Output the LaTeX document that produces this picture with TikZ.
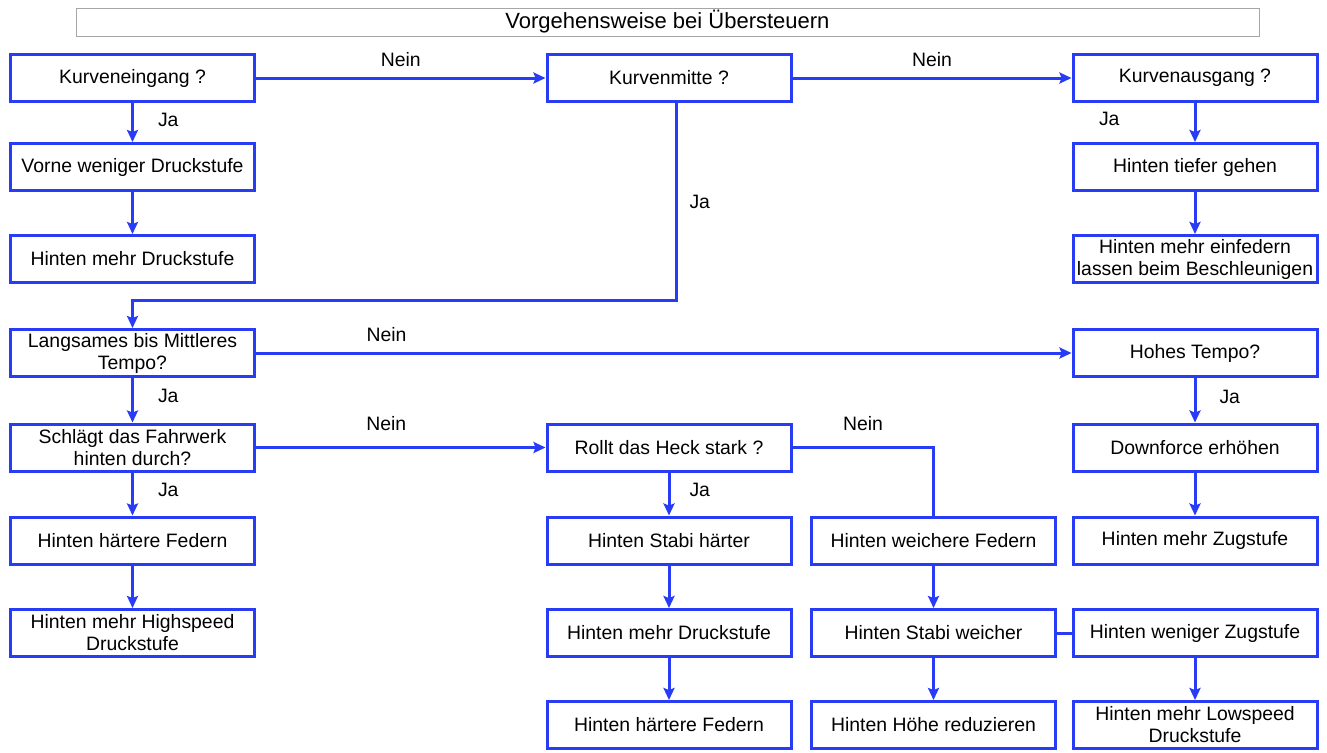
\documentclass[tikz,border=0pt]{standalone}
\usepackage{fontspec}
\setmainfont{Liberation Sans}
\usetikzlibrary{arrows.meta}
\definecolor{linie}{RGB}{40,60,245}
\tikzset{>={Stealth[length=6pt,width=5.5pt,inset=1pt]}}
\tikzset{kasten/.style={draw=linie, line width=1.5pt, minimum width=122pt, minimum height=23.5pt, align=center, inner sep=1pt, font=\fontsize{9.7}{11}\selectfont},
  pfeil/.style={draw=linie, line width=1.5pt, ->},
  verbinder/.style={draw=linie, line width=1.5pt},
  marke/.style={inner sep=0pt, text=black, font=\fontsize{9.7}{11}\selectfont}}

\begin{document}
\begin{tikzpicture}[x=0.5pt,y=-0.5pt]
    \useasboundingbox (0,0) rectangle (1327,752);
    \node[draw=gray!70, line width=0.5pt, minimum width=591.5pt, minimum height=14pt, inner sep=0pt, font=\fontsize{11}{13}\selectfont] (titel) at (667.5,22) {Vorgehensweise bei Übersteuern};
    \node[kasten] (eingang) at (132.5,78) {Kurveneingang ?};
    \node[kasten] (vorne) at (132.5,167) {Vorne weniger Druckstufe};
    \node[kasten] (druckA) at (132.5,259) {Hinten mehr Druckstufe};
    \node[kasten] (mitte) at (669,78) {Kurvenmitte ?};
    \node[kasten] (ausgang) at (1195,78) {Kurvenausgang ?};
    \node[kasten] (tiefer) at (1195,167) {Hinten tiefer gehen};
    \node[kasten] (einfedern) at (1195,259) {Hinten mehr einfedern\\lassen beim Beschleunigen};
    \node[kasten] (tempo) at (132.5,353) {Langsames bis Mittleres\\Tempo?};
    \node[kasten] (hoch) at (1195,353) {Hohes Tempo?};
    \node[kasten] (fahrwerk) at (132.5,447.5) {Schlägt das Fahrwerk\\hinten durch?};
    \node[kasten] (heck) at (669,447.5) {Rollt das Heck stark ?};
    \node[kasten] (downforce) at (1195,447.5) {Downforce erhöhen};
    \node[kasten] (federA) at (132.5,540.5) {Hinten härtere Federn};
    \node[kasten] (stabihart) at (669,540.5) {Hinten Stabi härter};
    \node[kasten] (weichfed) at (933.5,540.5) {Hinten weichere Federn};
    \node[kasten] (zugmehr) at (1195,540.5) {Hinten mehr Zugstufe};
    \node[kasten] (highspeed) at (132.5,633) {Hinten mehr Highspeed\\Druckstufe};
    \node[kasten] (druckB) at (669,633) {Hinten mehr Druckstufe};
    \node[kasten] (stabiweich) at (933.5,633) {Hinten Stabi weicher};
    \node[kasten] (zugweniger) at (1195,633) {Hinten weniger Zugstufe};
    \node[kasten] (federB) at (669,725) {Hinten härtere Federn};
    \node[kasten] (hoehe) at (933.5,725) {Hinten Höhe reduzieren};
    \node[kasten] (lowspeed) at (1195,725) {Hinten mehr Lowspeed\\Druckstufe};
    \coordinate (knick) at (676,300);
    \draw[pfeil] (eingang) -- node[marke, above=5pt] {Nein} (mitte);
    \draw[pfeil] (mitte) -- node[marke, above=5pt] {Nein} (ausgang);
    \draw[pfeil] (eingang) -- node[marke, right=12pt, pos=0.44] {Ja} (vorne);
    \draw[pfeil] (vorne) -- (druckA);
    \draw[pfeil] (ausgang) -- node[marke, left=37pt, pos=0.41] {Ja} (tiefer);
    \draw[pfeil] (tiefer) -- (einfedern);
    \draw[pfeil] (mitte.south -| knick) -- node[marke, right=6pt] {Ja} (knick) -| (tempo.north);
    \draw[pfeil] (tempo) -- node[marke, above=5pt, pos=0.16] {Nein} (hoch);
    \draw[pfeil] (tempo) -- node[marke, right=12pt, pos=0.41] {Ja} (fahrwerk);
    \draw[pfeil] (hoch) -- node[marke, right=11.5pt, pos=0.43] {Ja} (downforce);
    \draw[pfeil] (fahrwerk) -- node[marke, above=7.5pt, pos=0.45] {Nein} (heck);
    \draw[verbinder] (heck.east) -| node[marke, above=7.5pt, pos=0.25] {Nein} (weichfed.north);
    \draw[pfeil] (fahrwerk) -- node[marke, right=12pt, pos=0.4] {Ja} (federA);
    \draw[pfeil] (heck) -- node[marke, right=9.5pt, pos=0.4] {Ja} (stabihart);
    \draw[pfeil] (downforce) -- (zugmehr);
    \draw[pfeil] (federA) -- (highspeed);
    \draw[pfeil] (stabihart) -- (druckB);
    \draw[pfeil] (druckB) -- (federB);
    \draw[pfeil] (weichfed) -- (stabiweich);
    \draw[pfeil] (stabiweich) -- (hoehe);
    \draw[verbinder] (stabiweich) -- (zugweniger);
    \draw[pfeil] (zugweniger) -- (lowspeed);
\end{tikzpicture}
\end{document}
